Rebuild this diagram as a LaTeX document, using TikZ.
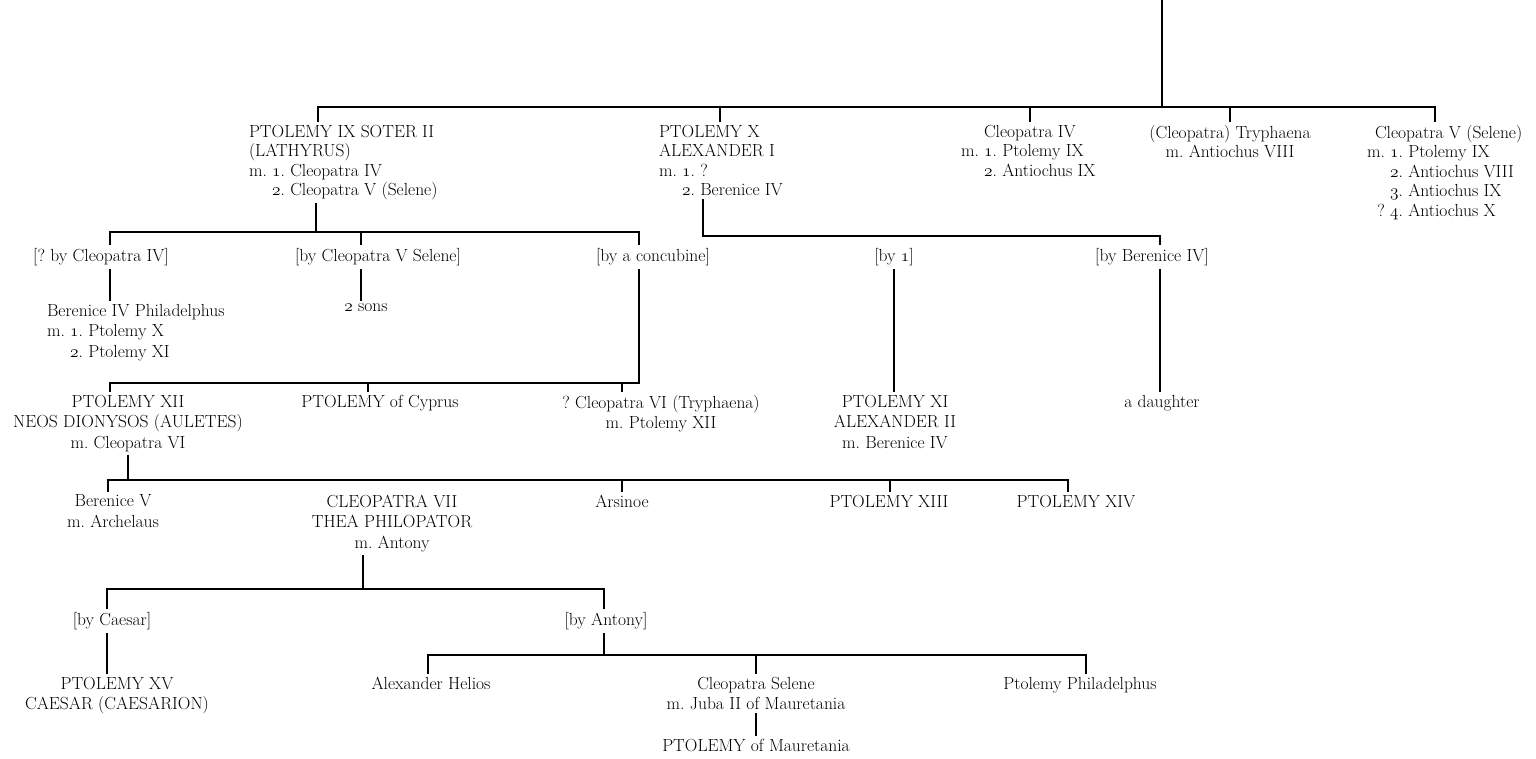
\documentclass[tikz,border=0pt]{standalone}
\usepackage{fontspec}
\newcommand\os[1]{\ensuremath{\mathnormal{#1}}}
\newcommand\mind{\phantom{m.\ }}
\tikzset{
  txt/.style={inner sep=0pt, outer sep=4pt, font=\fontsize{17.5}{20.5}\selectfont},
  txttop/.style={txt, font=\fontsize{17.5}{19.5}\selectfont},
  tl/.style={align=left, anchor=north west},
  tc/.style={align=center, anchor=north},
  ln/.style={line width=1.4pt, line cap=rect},
}
\begin{document}
\begin{tikzpicture}[x=1pt,y=-1pt]
\useasboundingbox (0,0) rectangle (1536,758);
% ---------- generation 1 ----------
\node[txttop,tl] (p9) at (245,121) {PTOLEMY IX SOTER II\\(LATHYRUS)\\m.\ \os{1}.\ Cleopatra IV\\\mind\os{2}.\ Cleopatra V (Selene)};
\node[txttop,tl] (p10) at (655,121) {PTOLEMY X\\ALEXANDER I\\m.\ \os{1}.\ ?\\\mind\os{2}.\ Berenice IV};
\node[txttop,tl] (c4) at (957,121) {\hspace*{23pt}Cleopatra IV\\m.\ \os{1}.\ Ptolemy IX\\\mind\os{2}.\ Antiochus IX};
\node[txttop,tc] (tr) at (1230,121) {(Cleopatra) Tryphaena\\m.\ Antiochus VIII};
\node[txttop,tl] (cv) at (1363,121) {\hspace*{8pt}Cleopatra V (Selene)\\m.\ \os{1}.\ Ptolemy IX\\\mind\os{2}.\ Antiochus VIII\\\mind\os{3}.\ Antiochus IX\\\mind\llap{?\ }\os{4}.\ Antiochus X};
\coordinate (root) at (1162,0);
\coordinate (b0) at (1162,107);
\coordinate (b0L) at (318,107);
\coordinate (k0a) at (720,107);
\coordinate (k0b) at (1030,107);
\coordinate (k0c) at (1230,107);
\coordinate (b0R) at (1435,107);
\draw[ln] (root) -- (b0);
\draw[ln] (b0L |- p9.north) -- (b0L) -- (b0R) -- (b0R |- cv.north);
\draw[ln] (k0a) -- (k0a |- p10.north);
\draw[ln] (k0b) -- (k0b |- c4.north);
\draw[ln] (k0c) -- (k0c |- tr.north);
% ---------- labels row ----------
\node[txt,tc] (lc4) at (101,244) {[?\ by Cleopatra IV]};
\node[txt,tc] (lc5) at (378,244) {[by Cleopatra V Selene]};
\node[txt,tc] (lcc) at (653,244) {[by a concubine]};
\node[txt,tc] (lb1) at (894,244) {[by \os{1}]};
\node[txt,tc] (lb4) at (1152,244) {[by Berenice IV]};
\coordinate (b1) at (316,232);
\coordinate (b1L) at (110,232);
\coordinate (k1) at (361,232);
\coordinate (b1R) at (639,232);
\draw[ln] (b1 |- p9.south) -- (b1);
\draw[ln] (b1L |- lc4.north) -- (b1L) -- (b1R) -- (b1R |- lcc.north);
\draw[ln] (k1) -- (k1 |- lc5.north);
\coordinate (b2) at (703,236);
\coordinate (b2R) at (1160,236);
\draw[ln] (b2 |- p10.south) -- (b2) -- (b2R) -- (b2R |- lb4.north);
% ---------- row 3 ----------
\node[txt,tl] (ber4) at (43,300) {Berenice IV Philadelphus\\m.\ \os{1}.\ Ptolemy X\\\mind\os{2}.\ Ptolemy XI};
\node[txt,tc] (sons) at (366,300) {\os{2} sons};
\draw[ln] (b1L |- lc4.south) -- (b1L |- ber4.north);
\draw[ln] (k1 |- lc5.south) -- (k1 |- sons.north);
% ---------- row 4 ----------
\node[txt,tc] (xii) at (128,391) {PTOLEMY XII\\NEOS DIONYSOS (AULETES)\\m.\ Cleopatra VI};
\node[txt,tc] (cyp) at (380,391) {PTOLEMY of Cyprus};
\node[txt,tc] (c6) at (661,391) {?\ Cleopatra VI (Tryphaena)\\m.\ Ptolemy XII};
\node[txt,tc] (xi) at (895,391) {PTOLEMY XI\\ALEXANDER II\\m.\ Berenice IV};
\node[txt,tc] (dau) at (1162,391) {a daughter};
\coordinate (b3L) at (110,383);
\coordinate (k3a) at (368,383);
\coordinate (k3b) at (622,383);
\coordinate (b3R) at (639,383);
\coordinate (v2) at (894,383);
\draw[ln] (b3R |- lcc.south) -- (b3R) -- (b3L) -- (b3L |- xii.north);
\draw[ln] (k3a) -- (k3a |- cyp.north);
\draw[ln] (k3b) -- (k3b |- c6.north);
\draw[ln] (v2 |- lb1.south) -- (v2 |- xi.north);
\draw[ln] (b2R |- lb4.south) -- (b2R |- dau.north);
% ---------- row 5 ----------
\node[txt,tc] (bv) at (113,491) {Berenice V\\m.\ Archelaus};
\node[txt,tc] (c7) at (392,491) {CLEOPATRA VII\\THEA PHILOPATOR\\m.\ Antony};
\node[txt,tc] (ars) at (622,491) {Arsinoe};
\node[txt,tc] (xiii) at (889,491) {PTOLEMY XIII};
\node[txt,tc] (xiv) at (1076,491) {PTOLEMY XIV};
\coordinate (b4) at (128,480);
\coordinate (b4L) at (108,480);
\coordinate (k4a) at (622,480);
\coordinate (k4b) at (890,480);
\coordinate (b4R) at (1068,480);
\draw[ln] (b4 |- xii.south) -- (b4);
\draw[ln] (b4L |- bv.north) -- (b4L) -- (b4R) -- (b4R |- xiv.north);
\draw[ln] (k4a) -- (k4a |- ars.north);
\draw[ln] (k4b) -- (k4b |- xiii.north);
% ---------- row 6 ----------
\node[txt,tc] (byc) at (112,608) {[by Caesar]};
\node[txt,tc] (bya) at (606,608) {[by Antony]};
\coordinate (b5) at (363,589);
\coordinate (b5L) at (107,589);
\coordinate (b5R) at (604,589);
\draw[ln] (b5 |- c7.south) -- (b5);
\draw[ln] (b5L |- byc.north) -- (b5L) -- (b5R) -- (b5R |- bya.north);
% ---------- row 7 ----------
\node[txt,tc] (p15) at (117,673) {PTOLEMY XV\\CAESAR (CAESARION)};
\node[txt,tc] (ah) at (431,673) {Alexander Helios};
\node[txt,tc] (cs) at (756,673) {Cleopatra Selene\\m.\ Juba II of Mauretania};
\node[txt,tc] (pp) at (1080,673) {Ptolemy Philadelphus};
\node[txt,tc] (pm) at (756,735) {PTOLEMY of Mauretania};
\draw[ln] (b5L |- byc.south) -- (b5L |- p15.north);
\coordinate (b6) at (604,655);
\coordinate (b6L) at (428,655);
\coordinate (k6) at (756,655);
\coordinate (b6R) at (1086,655);
\draw[ln] (b6 |- bya.south) -- (b6);
\draw[ln] (b6L |- ah.north) -- (b6L) -- (b6R) -- (b6R |- pp.north);
\draw[ln] (k6) -- (k6 |- cs.north);
\draw[ln] (cs.south) -- (pm.north);
\end{tikzpicture}
\end{document}
